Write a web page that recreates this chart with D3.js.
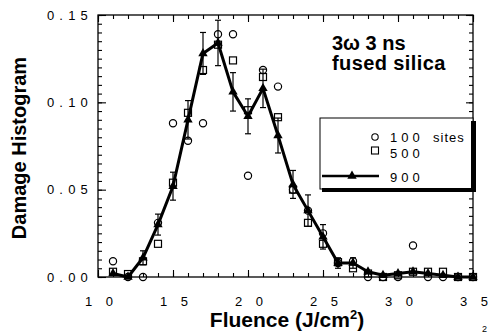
<!DOCTYPE html>
<html>
<head>
<meta charset="utf-8">
<script src="https://cdn.jsdelivr.net/npm/d3@7"></script>
<style>
  body { margin: 0; background: #fff; }
  svg { display: block; }
  text { font-family: "Liberation Sans", Arial, Helvetica, sans-serif; fill: #000; }
</style>
</head>
<body>
<svg id="chart" width="495" height="336"></svg>
<script>
// Fluence bins (J/cm^2)
const fluence = [11, 12, 13, 14, 15, 16, 17, 18, 19, 20, 21, 22, 23, 24, 25, 26, 27, 28, 29, 30, 31, 32, 33, 34, 35];

// Damage histogram for 100, 500 and 900 sites
const sites100 = [0.009, 0.000, 0.000, 0.031, 0.088, 0.078, 0.088, 0.139, 0.139, 0.058, 0.1185, 0.109, 0.050, 0.038, 0.025, 0.008, 0.009, 0.000, 0.000, 0.000, 0.018, 0.000, 0.000, 0.000, 0.000];
const sites500 = [0.003, 0.0017, 0.009, 0.019, 0.054, 0.094, 0.1185, 0.133, 0.124, 0.0955, 0.1145, 0.0915, 0.050, 0.031, 0.019, 0.0085, 0.005, 0.002, 0.000, 0.001, 0.003, 0.003, 0.003, 0.000, 0.000];
const sites900 = [0.002, 0.000, 0.011, 0.030, 0.052, 0.090, 0.128, 0.134, 0.106, 0.092, 0.108, 0.081, 0.053, 0.038, 0.023, 0.008, 0.008, 0.003, 0.001, 0.002, 0.003, 0.002, 0.001, 0.000, 0.000];
const err900   = [0, 0, 0.004, 0.006, 0.008, 0.011, 0.012, 0.013, 0.011, 0.010, 0.011, 0.010, 0.008, 0.009, 0.007, 0.003, 0.003, 0, 0, 0, 0, 0, 0, 0, 0];

// Axis ticks and labels
const xMajor = [10, 15, 20, 25, 30, 35];
const xTickLabels = ["1 0", "1 5", "2 0", "2 5", "3 0", "3 5"];
const yMajor = [0, 0.05, 0.10, 0.15];
const yTickLabels = ["0.00", "0.05", "0.10", "0.15"];
const legendLabels = ["100", "500", "900"];

const svg = d3.select("#chart");
const plotL = 98, plotR = 473, plotT = 15, plotB = 277;

const x = d3.scaleLinear().domain([10, 35]).range([plotL, plotR]);
const y = d3.scaleLinear().domain([0, 0.15]).range([plotB, plotT]);

const xMinor = d3.range(10, 36, 1);
const yMinor = d3.range(0, 0.1501, 0.005);

// Plot frame
svg.append("rect")
  .attr("x", plotL).attr("y", plotT)
  .attr("width", plotR - plotL).attr("height", plotB - plotT)
  .attr("fill", "none").attr("stroke", "#000").attr("stroke-width", 1.3);

function styleAxis(g) {
  g.select(".domain").remove();
  g.selectAll(".tick line").attr("stroke", "#000").attr("stroke-width", 1.1);
}

// Inward ticks on all four sides
svg.append("g").attr("transform", `translate(0,${plotB})`)
  .call(d3.axisBottom(x).tickValues(xMinor).tickSize(-4).tickFormat(""))
  .call(styleAxis);
svg.append("g").attr("transform", `translate(0,${plotT})`)
  .call(d3.axisTop(x).tickValues(xMinor).tickSize(-4).tickFormat(""))
  .call(styleAxis);
svg.append("g").attr("transform", `translate(0,${plotT})`)
  .call(d3.axisTop(x).tickValues(xMajor).tickSize(-7).tickFormat(""))
  .call(styleAxis);
const xAxis = svg.append("g").attr("transform", `translate(0,${plotB})`)
  .call(d3.axisBottom(x).tickValues(xMajor).tickSize(-7).tickPadding(20)
    .tickFormat((d, i) => xTickLabels[i]))
  .call(styleAxis);
xAxis.selectAll("text")
  .attr("font-size", 13).attr("letter-spacing", 5).attr("dx", 3);

svg.append("g").attr("transform", `translate(${plotL},0)`)
  .call(d3.axisLeft(y).tickValues(yMinor).tickSize(-4).tickFormat(""))
  .call(styleAxis);
svg.append("g").attr("transform", `translate(${plotR},0)`)
  .call(d3.axisRight(y).tickValues(yMinor).tickSize(-4).tickFormat(""))
  .call(styleAxis);
svg.append("g").attr("transform", `translate(${plotR},0)`)
  .call(d3.axisRight(y).tickValues(yMajor).tickSize(-7).tickFormat(""))
  .call(styleAxis);
const yAxis = svg.append("g").attr("transform", `translate(${plotL},0)`)
  .call(d3.axisLeft(y).tickValues(yMajor).tickSize(-8).tickPadding(5)
    .tickFormat((d, i) => yTickLabels[i]))
  .call(styleAxis);
yAxis.selectAll("text").attr("font-size", 13).attr("letter-spacing", 5.2);

// Axis titles
svg.append("text")
  .attr("transform", `translate(26,${(plotT + plotB) / 2 + 2}) rotate(-90)`)
  .attr("text-anchor", "middle")
  .attr("font-size", 20).attr("font-weight", "bold")
  .text("Damage Histogram");

const xt = svg.append("text")
  .attr("x", 287).attr("y", 327)
  .attr("text-anchor", "middle")
  .attr("font-size", 21).attr("font-weight", "bold");
xt.append("tspan").text("Fluence (J/cm");
xt.append("tspan").attr("font-size", 13).attr("dy", -8).text("2");
xt.append("tspan").attr("dy", 8).text(")");

svg.append("text").attr("x", 482).attr("y", 332).attr("font-size", 9).text("2");

// 900-site curve with error bars
const line = d3.line().x((d, i) => x(fluence[i])).y(d => y(d));
svg.append("path").datum(sites900)
  .attr("d", line)
  .attr("fill", "none").attr("stroke", "#000").attr("stroke-width", 3)
  .attr("stroke-linejoin", "round");

const eb = svg.append("g").attr("stroke", "#000").attr("stroke-width", 1.2);
sites900.forEach((v, i) => {
  const e = err900[i];
  if (!e) return;
  const cx = x(fluence[i]);
  const y1 = y(v + e), y0 = y(v - e);
  eb.append("line").attr("x1", cx).attr("x2", cx).attr("y1", y1).attr("y2", y0);
  eb.append("line").attr("x1", cx - 3).attr("x2", cx + 3).attr("y1", y1).attr("y2", y1);
  eb.append("line").attr("x1", cx - 3).attr("x2", cx + 3).attr("y1", y0).attr("y2", y0);
});

const tri = d3.symbol().type(d3.symbolTriangle).size(38);
svg.append("g").selectAll("path").data(sites900).join("path")
  .attr("d", tri)
  .attr("transform", (d, i) => `translate(${x(fluence[i])},${y(d)})`)
  .attr("fill", "#000");

// 500-site squares
svg.append("g").selectAll("rect").data(sites500).join("rect")
  .attr("x", (d, i) => x(fluence[i]) - 3.5)
  .attr("y", d => y(d) - 3.5)
  .attr("width", 7).attr("height", 7)
  .attr("fill", "none").attr("stroke", "#000").attr("stroke-width", 1.2);

// 100-site circles
svg.append("g").selectAll("circle").data(sites100).join("circle")
  .attr("cx", (d, i) => x(fluence[i]))
  .attr("cy", d => y(d))
  .attr("r", 3.6)
  .attr("fill", "none").attr("stroke", "#000").attr("stroke-width", 1.2);

// Annotation
svg.append("text").attr("x", 332).attr("y", 50)
  .attr("font-size", 20).attr("font-weight", "bold").text("3\u03c9 3 ns");
svg.append("text").attr("x", 332).attr("y", 70)
  .attr("font-size", 20).attr("font-weight", "bold").attr("letter-spacing", 0.4).text("fused silica");

// Legend box with drop shadow
const lg = svg.append("g");
lg.append("rect").attr("x", 320).attr("y", 118).attr("width", 153).attr("height", 71)
  .attr("fill", "#fff").attr("stroke", "#000").attr("stroke-width", 1);
lg.append("rect").attr("x", 471).attr("y", 121).attr("width", 5).attr("height", 71).attr("fill", "#000");
lg.append("rect").attr("x", 322).attr("y", 188).attr("width", 154).attr("height", 4).attr("fill", "#000");

lg.append("circle").attr("cx", 375).attr("cy", 137).attr("r", 3.2)
  .attr("fill", "none").attr("stroke", "#000").attr("stroke-width", 1.1);
lg.append("rect").attr("x", 371.5).attr("y", 147).attr("width", 7).attr("height", 7)
  .attr("fill", "none").attr("stroke", "#000").attr("stroke-width", 1.1);
lg.append("line").attr("x1", 322).attr("x2", 379).attr("y1", 176).attr("y2", 176)
  .attr("stroke", "#000").attr("stroke-width", 2.5);
lg.append("path").attr("d", tri).attr("transform", "translate(352,176)").attr("fill", "#000");

const ly = [142, 158, 182];
legendLabels.forEach((t, i) => {
  lg.append("text").attr("x", 390).attr("y", ly[i])
    .attr("font-size", 13).attr("letter-spacing", 4).text(t);
});
lg.append("text").attr("x", 433).attr("y", 142)
  .attr("font-size", 13).attr("letter-spacing", 1).text("sites");
</script>
</body>
</html>
